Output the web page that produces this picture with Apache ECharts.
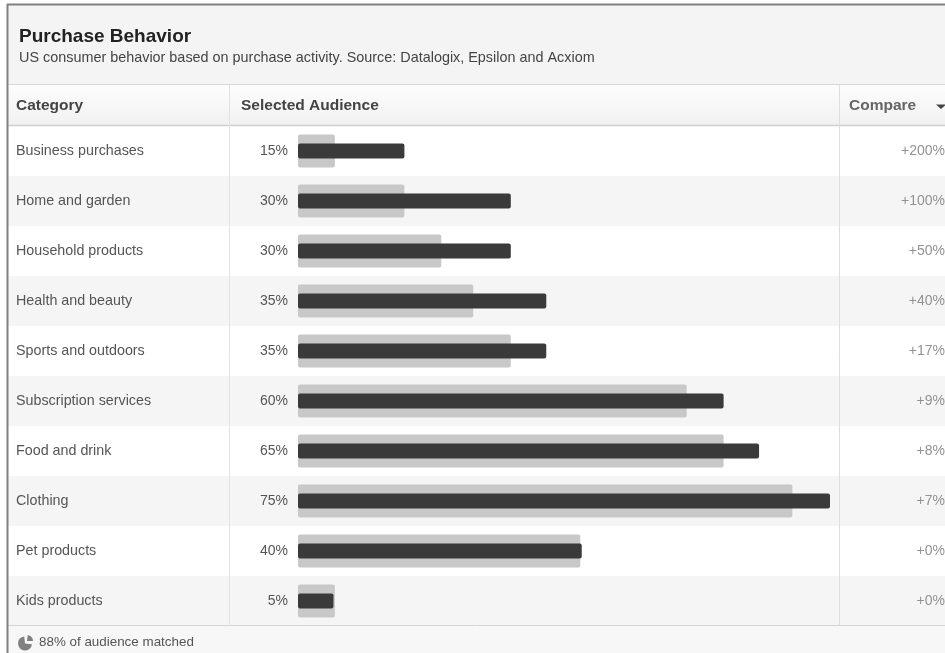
<!DOCTYPE html>
<html><head><meta charset="utf-8">
<style>html,body{margin:0;padding:0;background:#fff}#c{width:945px;height:653px}</style>
<script src="https://cdn.jsdelivr.net/npm/echarts@6/dist/echarts.min.js"></script>
</head><body><div id="c"></div>
<script>
const categories = ['Business purchases','Home and garden','Household products','Health and beauty','Sports and outdoors','Subscription services','Food and drink','Clothing','Pet products','Kids products'];
const selectedAudience = [15,30,30,35,35,60,65,75,40,5];
const baseline = [5.2,15,20.2,24.7,30,54.8,60,69.7,39.8,5.2];
const compareLabels = ['+200%','+100%','+50%','+40%','+17%','+9%','+8%','+7%','+0%','+0%'];
const percentLabels = selectedAudience.map(v => v + '%');

const FONT = '"Liberation Sans", Arial, sans-serif';
const rows = categories.map((c, i) => ({
  type: 'rect', z: -10, silent: true,
  shape: {x: 8, y: 126 + i * 50, width: 937, height: 50},
  style: {fill: i % 2 ? '#f5f5f5' : '#ffffff'}
}));
const line = (x1, y1, x2, y2, stroke, w) => ({type: 'line', z: -5, silent: true,
  shape: {x1, y1, x2, y2}, style: {stroke, lineWidth: w || 1}});
const text = (x, y, t, font, fill, align) => ({type: 'text', z: 5, silent: true, x, y,
  style: {text: t, font, fill, align: align || 'left', verticalAlign: 'middle'}});

const hideAxis = {axisLine: {show: false}, axisTick: {show: false}, splitLine: {show: false}};
const chart = echarts.init(document.getElementById('c'), null, {renderer: 'canvas'});
chart.setOption({
  animation: false,
  backgroundColor: '#ffffff',
  textStyle: {fontFamily: FONT},
  title: {
    text: 'Purchase Behavior', subtext: 'US consumer behavior based on purchase activity. Source: Datalogix, Epsilon and Acxiom',
    left: 14, top: 22, itemGap: 5,
    textStyle: {fontFamily: FONT, fontSize: 19, fontWeight: 'bold', color: '#222222'},
    subtextStyle: {fontFamily: FONT, fontSize: 14.4, color: '#444444'}
  },
  grid: {left: 298, top: 126, width: 532, height: 500, outerBoundsMode: 'none'},
  xAxis: {type: 'value', min: 0, max: 75, show: false},
  yAxis: [
    Object.assign({type: 'category', inverse: true, data: categories, position: 'left',
      axisLabel: {align: 'left', margin: 282, fontSize: 14.3, color: '#555555', fontFamily: FONT}}, hideAxis),
    Object.assign({type: 'category', inverse: true, data: percentLabels, position: 'left',
      axisLabel: {align: 'right', margin: 10, fontSize: 14, color: '#555555', fontFamily: FONT}}, hideAxis),
    Object.assign({type: 'category', inverse: true, data: compareLabels, position: 'right',
      axisLabel: {align: 'right', margin: 115, fontSize: 14, color: '#929292', fontFamily: FONT}}, hideAxis)
  ],
  series: [
    {name: 'Baseline', type: 'bar', yAxisIndex: 0, data: baseline, barWidth: 33, z: 2,
      itemStyle: {color: '#c8c8c8', borderRadius: 2}},
    {name: 'Selected Audience', type: 'bar', yAxisIndex: 1, data: selectedAudience, barWidth: 15, z: 3,
      itemStyle: {color: '#3a3a3a', borderRadius: 2}},
    {name: 'Compare', type: 'bar', yAxisIndex: 2, data: [], silent: true}
  ],
  graphic: {elements: [
    {type: 'rect', z: -20, silent: true, shape: {x: 8, y: 5, width: 937, height: 80}, style: {fill: '#f4f4f4'}},
    {type: 'rect', z: -20, silent: true, shape: {x: 8, y: 85, width: 937, height: 40},
      style: {fill: new echarts.graphic.LinearGradient(0, 0, 0, 1, [{offset: 0, color: '#fdfdfd'}, {offset: 1, color: '#f1f1f1'}])}},
    {type: 'rect', z: -20, silent: true, shape: {x: 8, y: 626, width: 937, height: 27}, style: {fill: '#f7f7f7'}},
    ...rows,
    line(8, 84.5, 945, 84.5, '#d8d8d8'),
    line(8, 125.5, 945, 125.5, '#cfcfcf', 1.5),
    line(8, 625.5, 945, 625.5, '#d4d4d4'),
    line(229.5, 85, 229.5, 626, '#e2e2e2'),
    line(839.5, 85, 839.5, 626, '#dedede'),
    line(7.5, 4, 7.5, 653, '#808080', 2),
    line(7, 4.5, 945, 4.5, '#808080', 2),
    text(16, 106, 'Category', 'bold 15.5px ' + FONT, '#444444'),
    text(241, 106, 'Selected Audience', 'bold 15.5px ' + FONT, '#444444'),
    text(849, 106, 'Compare', 'bold 15.5px ' + FONT, '#666666'),
    {type: 'polygon', z: 5, silent: true, shape: {points: [[936, 104.5], [946, 104.5], [941, 109]]}, style: {fill: '#444444'}},
    {type: 'sector', z: 5, silent: true, shape: {cx: 25, cy: 643.5, r: 7, startAngle: 0.1, endAngle: 4.6}, style: {fill: '#808080'}},
    {type: 'sector', z: 5, silent: true, shape: {cx: 27, cy: 641, r: 6, startAngle: -1.45, endAngle: 0}, style: {fill: '#808080'}},
    text(39, 642.5, '88% of audience matched', '13.4px ' + FONT, '#555555')
  ]}
});
</script></body></html>
